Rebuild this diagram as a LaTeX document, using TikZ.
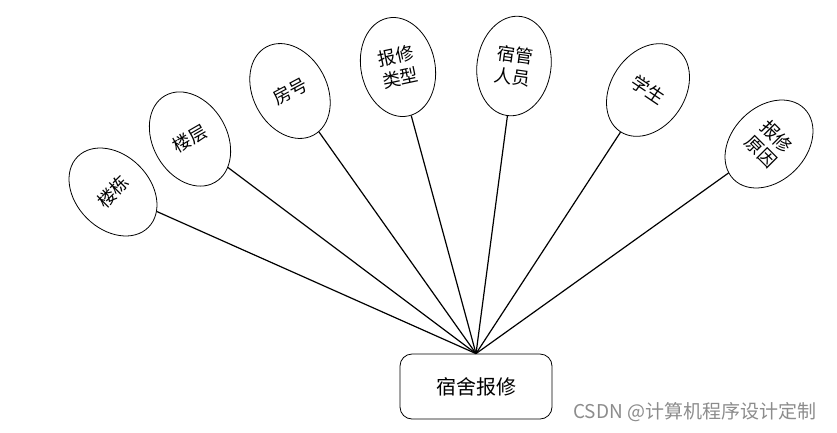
\documentclass[tikz,border=0pt]{standalone}
\usepackage{fontspec}
\newfontfamily\cjk{Noto Sans CJK SC}
\usetikzlibrary{shapes.geometric}
\begin{document}
\begin{tikzpicture}[x=1pt,y=-1pt,
  attr/.style={ellipse,draw=black,line width=0.8pt,minimum width=74pt,minimum height=100pt,inner sep=0pt,align=center,font=\cjk\fontsize{18}{22}\selectfont},
  ent/.style={draw=black,line width=0.8pt,rounded corners=12pt,minimum width=152pt,minimum height=65pt,inner sep=0pt,font=\cjk\fontsize{20}{24}\selectfont},
  link/.style={draw=black,line width=1.2pt}]
\useasboundingbox (0,0) rectangle (837,432);
\node[ent] (main) at (476,386.5) {宿舍报修};
\node[attr,rotate=45] (a1) at (113,192) {楼栋};
\node[attr,rotate=30] (a2) at (190,139) {楼层};
\node[attr,rotate=28] (a3) at (290,91) {房号};
\node[attr,rotate=12] (a4) at (398,67) {报修\\类型};
\node[attr,rotate=-8] (a5) at (514,66) {宿管\\人员};
\node[attr,rotate=-34] (a6) at (648,90) {学生};
\node[attr,rotate=-45] (a7) at (769,144) {报修\\原因};
\foreach \n in {a1,a2,a3,a4,a5,a6,a7}{\draw[link] (main.north) -- (\n);}
\node[anchor=west,text=black!45,inner sep=0pt,font=\cjk\fontsize{19}{22}\selectfont] (wm) at (573,412) {CSDN @计算机程序设计定制};
\end{tikzpicture}
\end{document}
